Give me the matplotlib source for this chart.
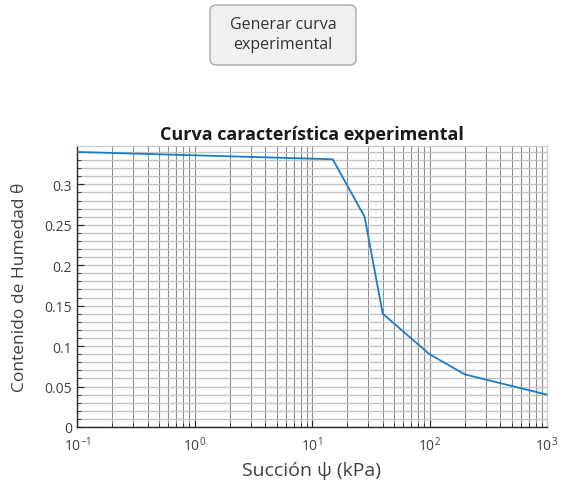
import matplotlib
matplotlib.use('Agg')
import matplotlib.pyplot as plt
from matplotlib.patches import FancyBboxPatch
from matplotlib.ticker import LogLocator, MultipleLocator, FormatStrFormatter

plt.rcParams['font.family'] = ['Open Sans', 'DejaVu Sans']
plt.rcParams['mathtext.fontset'] = 'custom'
plt.rcParams['mathtext.rm'] = 'Open Sans'
plt.rcParams['mathtext.it'] = 'Open Sans:italic'

# suction (kPa) vs volumetric water content
suction = [0.1, 15, 28, 40, 100, 200, 1000]
theta = [0.34, 0.331, 0.26, 0.14, 0.09, 0.065, 0.04]

title = 'Curva característica experimental'
xlabel = 'Succión ψ (kPa)'
ylabel = 'Contenido de Humedad θ'
button_text = 'Generar curva\nexperimental'

fig = plt.figure(figsize=(5.61, 4.89), dpi=100)

# push button above the plot
btn = FancyBboxPatch((210 / 561, 1 - 66 / 489), 146 / 561, 60 / 489,
                     boxstyle='round,pad=0,rounding_size=0.012',
                     transform=fig.transFigure, facecolor='#f0f0f0',
                     edgecolor='#a9a9a9', linewidth=1.0)
fig.patches.append(btn)
fig.text(283 / 561, 1 - 35 / 489, button_text, ha='center', va='center',
         fontsize=11.5, color='#333333', linespacing=1.3)

ax = fig.add_axes([77 / 561, 61 / 489, 470 / 561, 281.5 / 489])
ax.plot(suction, theta, color='#1a7cc4', linewidth=1.3, zorder=3)
ax.set_xscale('log')
ax.set_xlim(0.1, 1000)
ax.set_ylim(0, 0.348)

ax.xaxis.set_major_locator(LogLocator(base=10, numticks=10))
ax.xaxis.set_minor_locator(LogLocator(base=10, subs=range(2, 10), numticks=20))
ax.yaxis.set_major_locator(MultipleLocator(0.05))
ax.yaxis.set_minor_locator(MultipleLocator(0.01))
ax.yaxis.set_major_formatter(FormatStrFormatter('%g'))

ax.grid(which='both', axis='x', color='#7a7a7a', linewidth=0.8, alpha=0.85)
ax.grid(which='both', axis='y', color='#c4c4c4', linewidth=1.0)

for side in ['top', 'right']:
    ax.spines[side].set_color('#c8c8c8')
for side in ['left', 'bottom']:
    ax.spines[side].set_color('#262626')
    ax.spines[side].set_linewidth(1.0)

ax.tick_params(which='both', direction='in', colors='#262626',
               labelcolor='#404040', labelsize=10, top=False, right=False)
ax.tick_params(which='major', length=5)
ax.tick_params(which='minor', length=3)
ax.tick_params(axis='x', pad=6)

ax.set_title(title, fontsize=13, fontweight='bold', color='#1a1a1a', pad=5)
ax.set_xlabel(xlabel, fontsize=14, color='#404040', labelpad=5)
ax.set_ylabel(ylabel, fontsize=12.5, color='#404040', labelpad=12)

fig.savefig('out.png', dpi=100)
